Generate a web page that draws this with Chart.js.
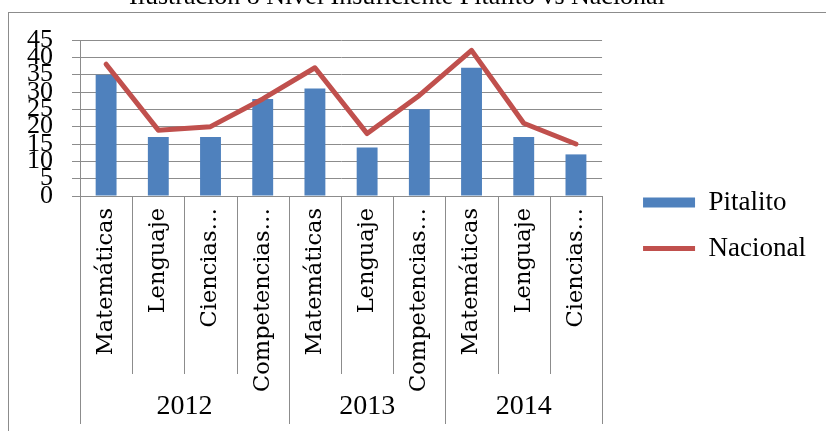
<!DOCTYPE html>
<html>
<head>
<meta charset="utf-8">
<script src="https://cdn.jsdelivr.net/npm/chart.js@4.4.1/dist/chart.umd.min.js"></script>
<style>
  body { margin: 0; background: #fff; }
  #caja { width: 826px; height: 431px; }
</style>
</head>
<body>
<div id="caja"><canvas id="grafica"></canvas></div>
<script>
var materias = ['Matemáticas', 'Lenguaje', 'Ciencias…', 'Competencias…', 'Matemáticas', 'Lenguaje', 'Competencias…', 'Matemáticas', 'Lenguaje', 'Ciencias…'];
var anios = ['2012', '2013', '2014'];
var materiasPorAnio = [4, 3, 3];
var pitalito = [35, 17, 17, 28, 31, 14, 25, 37, 17, 12];
var nacional = [38, 19, 20, 28, 37, 18, 29, 42, 21, 15];
var yMax = 45;
var yPaso = 5;

var gris = '#8c8c8c';
var serif = '"Liberation Serif", serif';

// frame, category separators and the year row under the labels
var marco = {
  id: 'marco',
  afterLayout: function (chart) {
    // legend sits a bit right and lower than chart.js puts it
    var ley = chart.legend;
    ley.left += 22; ley.right += 22;
    ley.top += 10; ley.bottom += 10;
  },
  beforeDraw: function (chart) {
    var ctx = chart.ctx;
    ctx.save();
    ctx.strokeStyle = gris;
    ctx.lineWidth = 1;
    ctx.strokeRect(8.5, 12.5, chart.width, chart.height);
    ctx.restore();
  },
  afterDraw: function (chart) {
    var ctx = chart.ctx;
    var x = chart.scales.x;
    var area = chart.chartArea;
    var n = materias.length;
    var borde = function (i) {
      if (i === 0) return area.left;
      if (i === n) return area.right;
      return (x.getPixelForTick(i - 1) + x.getPixelForTick(i)) / 2;
    };
    var cortes = [0];
    materiasPorAnio.forEach(function (m) { cortes.push(cortes[cortes.length - 1] + m); });

    ctx.save();
    ctx.strokeStyle = gris;
    ctx.lineWidth = 1;
    for (var i = 0; i <= n; i++) {
      var px = Math.round(borde(i)) + 0.5;
      var fin = cortes.indexOf(i) >= 0 ? x.top + 228 : x.top + 178;
      ctx.beginPath();
      ctx.moveTo(px, x.top);
      ctx.lineTo(px, fin);
      ctx.stroke();
    }
    ctx.fillStyle = '#000';
    ctx.font = '28px ' + serif;
    ctx.textAlign = 'center';
    ctx.textBaseline = 'middle';
    anios.forEach(function (a, k) {
      var cx = (borde(cortes[k]) + borde(cortes[k + 1])) / 2;
      ctx.fillText(a, cx, x.top + 211);
    });
    ctx.restore();
  }
};

new Chart(document.getElementById('grafica'), {
  type: 'bar',
  data: {
    labels: materias,
    datasets: [
      {
        type: 'bar',
        label: 'Pitalito',
        data: pitalito,
        backgroundColor: '#4f81bd',
        borderWidth: 0,
        barPercentage: 0.4,
        categoryPercentage: 1,
        order: 1,
        yAxisID: 'y'
      },
      {
        type: 'line',
        label: 'Nacional',
        data: nacional,
        borderColor: '#c0504d',
        backgroundColor: '#c0504d',
        borderWidth: 5,
        pointRadius: 0,
        tension: 0,
        borderCapStyle: 'round',
        borderJoinStyle: 'round',
        order: 0,
        yAxisID: 'y'
      }
    ]
  },
  options: {
    responsive: true,
    maintainAspectRatio: false,
    animation: false,
    layout: { padding: { left: 0, right: 32, top: 0, bottom: 0 } },
    plugins: {
      tooltip: { enabled: false },
      title: {
        display: true,
        text: 'Ilustración 8 Nivel Insuficiente Pitalito vs Nacional',
        color: '#000',
        font: { family: serif, size: 26, weight: 'normal', lineHeight: 1.2 },
        padding: { top: -18, bottom: 26.8 }
      },
      legend: {
        position: 'right',
        align: 'center',
        labels: {
          color: '#000',
          font: { family: serif, size: 27 },
          usePointStyle: true,
          pointStyleWidth: 52,
          boxHeight: 10,
          padding: 19,
          sort: function (a, b) { return a.datasetIndex - b.datasetIndex; },
          generateLabels: function (chart) {
            var items = Chart.defaults.plugins.legend.labels.generateLabels(chart);
            items.forEach(function (it) {
              it.pointStyle = it.datasetIndex === 0 ? 'rect' : 'line';
            });
            return items;
          }
        }
      }
    },
    scales: {
      x: {
        grid: { display: false, drawTicks: false },
        border: { display: true, color: gris },
        ticks: {
          autoSkip: false,
          minRotation: 90,
          maxRotation: 90,
          padding: 12,
          color: '#000',
          font: { family: '"DejaVu Serif", serif', size: 22.5 }
        },
        afterFit: function (s) { s.height = 235; }
      },
      y: {
        min: 0,
        max: yMax,
        ticks: {
          stepSize: yPaso,
          autoSkip: false,
          padding: 19,
          color: '#000',
          font: { family: serif, size: 26 }
        },
        grid: { color: gris, tickLength: 8 },
        border: { color: gris },
        afterFit: function (s) { s.width = 80; }
      }
    }
  },
  plugins: [marco]
});
</script>
</body>
</html>
